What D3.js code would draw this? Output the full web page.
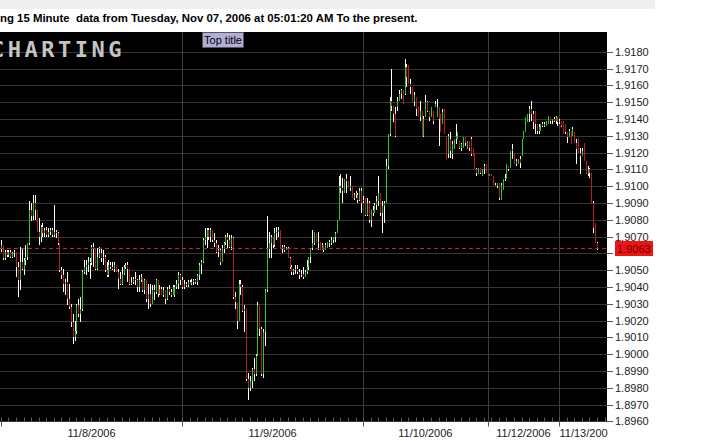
<!DOCTYPE html>
<html><head><meta charset="utf-8">
<script src="https://cdn.jsdelivr.net/npm/d3@7"></script>
<style>html,body{margin:0;padding:0;background:#fff;overflow:hidden}</style>
</head><body><svg id="c" width="722" height="441"></svg>
<script>
// ---- data: 15-minute bars, 11/8/2006 .. 11/13/2006 ----
const opens = [
1.9063,1.9065,1.9057,1.9061,1.9059,1.9061,1.9058,1.9060,1.9061,1.9052,
1.9044,1.9055,1.9051,1.9056,1.9058,1.9066,1.9086,1.9082,1.9090,1.9086,
1.9073,1.9070,1.9076,1.9072,1.9074,1.9071,1.9073,1.9074,1.9071,1.9073,
1.9072,1.9066,1.9050,1.9047,1.9042,1.9043,1.9033,1.9028,1.9019,1.9010,
1.9014,1.9029,1.9024,1.9027,1.9049,1.9052,1.9053,1.9055,1.9054,1.9064,
1.9063,1.9051,1.9058,1.9060,1.9057,1.9058,1.9050,1.9047,1.9053,1.9052,
1.9051,1.9053,1.9049,1.9045,1.9042,1.9048,1.9052,1.9053,1.9051,1.9042,
1.9043,1.9045,1.9044,1.9040,1.9044,1.9046,1.9038,1.9044,1.9033,1.9036,
1.9030,1.9038,1.9037,1.9044,1.9036,1.9039,1.9035,1.9038,1.9033,1.9039,
1.9037,1.9035,1.9035,1.9040,1.9042,1.9047,
1.9044,1.9040,1.9042,1.9041,1.9043,1.9042,1.9043,1.9044,1.9043,1.9047,
1.9053,1.9055,1.9068,1.9070,1.9074,1.9070,1.9074,1.9068,1.9066,1.9061,
1.9062,1.9055,1.9063,1.9066,1.9070,1.9068,1.9064,1.9069,1.9034,1.9031,
1.9020,1.9042,1.9040,1.9026,1.9027,1.8985,1.8980,1.8984,1.8991,1.8988,
1.8999,1.9029,1.9015,1.8988,1.9013,1.9038,1.9063,1.9066,1.9070,1.9065,
1.9072,1.9073,1.9074,1.9063,1.9064,1.9062,1.9063,1.9057,1.9052,1.9049,
1.9050,1.9051,1.9049,1.9047,1.9048,1.9046,1.9049,1.9052,1.9058,1.9063,
1.9066,1.9072,1.9066,1.9067,1.9062,1.9065,1.9062,1.9063,1.9067,1.9066,
1.9068,1.9070,1.9072,1.9080,1.9100,1.9099,1.9096,1.9104,1.9103,1.9099,
1.9100,1.9093,1.9095,1.9095,1.9092,1.9097,
1.9091,1.9093,1.9083,1.9090,1.9080,1.9086,1.9084,1.9089,1.9091,1.9096,
1.9084,1.9088,1.9090,1.9112,1.9131,1.9151,1.9148,1.9143,1.9147,1.9151,
1.9155,1.9157,1.9155,1.9171,1.9172,1.9161,1.9159,1.9150,1.9153,1.9148,
1.9141,1.9145,1.9130,1.9141,1.9150,1.9145,1.9141,1.9145,1.9147,1.9141,
1.9147,1.9143,1.9137,1.9146,1.9129,1.9119,1.9128,1.9119,1.9122,1.9128,
1.9128,1.9127,1.9123,1.9123,1.9129,1.9122,1.9127,1.9128,1.9123,1.9119,
1.9110,1.9107,1.9111,1.9106,1.9110,1.9113,
1.9107,1.9106,1.9107,1.9106,1.9101,1.9100,1.9102,1.9092,1.9098,1.9104,
1.9104,1.9112,1.9111,1.9121,1.9120,1.9113,1.9113,1.9116,1.9118,1.9128,
1.9132,1.9138,1.9143,1.9146,1.9143,1.9145,1.9137,1.9133,1.9133,1.9137,
1.9136,1.9136,1.9137,1.9141,1.9139,1.9140,1.9139,1.9141,
1.9138,1.9139,1.9139,1.9137,1.9132,1.9129,1.9133,1.9130,1.9132,1.9126,
1.9128,1.9120,1.9118,1.9126,1.9115,1.9107,1.9110,1.9108,1.9090,1.9078,
1.9066];
const highs = [
1.9068,1.9065,1.9062,1.9062,1.9062,1.9062,1.9061,1.9062,1.9061,1.9055,
1.9064,1.9063,1.9057,1.9065,1.9066,1.9091,1.9090,1.9095,1.9095,1.9086,
1.9081,1.9077,1.9078,1.9075,1.9076,1.9075,1.9075,1.9075,1.9089,1.9074,
1.9073,1.9066,1.9052,1.9051,1.9045,1.9049,1.9042,1.9030,1.9024,1.9020,
1.9030,1.9033,1.9034,1.9050,1.9056,1.9056,1.9058,1.9057,1.9065,1.9066,
1.9063,1.9063,1.9064,1.9063,1.9062,1.9059,1.9055,1.9056,1.9055,1.9055,
1.9055,1.9053,1.9051,1.9049,1.9052,1.9053,1.9054,1.9055,1.9051,1.9046,
1.9046,1.9049,1.9045,1.9047,1.9048,1.9046,1.9045,1.9044,1.9042,1.9042,
1.9041,1.9041,1.9045,1.9044,1.9041,1.9040,1.9040,1.9038,1.9040,1.9041,
1.9039,1.9041,1.9041,1.9044,1.9049,1.9048,
1.9046,1.9044,1.9043,1.9044,1.9044,1.9045,1.9045,1.9045,1.9048,1.9054,
1.9056,1.9069,1.9075,1.9075,1.9075,1.9075,1.9074,1.9072,1.9068,1.9065,
1.9063,1.9065,1.9067,1.9071,1.9072,1.9071,1.9071,1.9070,1.9037,1.9031,
1.9044,1.9044,1.9041,1.9029,1.9027,1.8989,1.8987,1.8992,1.8998,1.9000,
1.9031,1.9029,1.9016,1.9015,1.9039,1.9082,1.9073,1.9071,1.9070,1.9075,
1.9076,1.9076,1.9074,1.9065,1.9065,1.9064,1.9064,1.9058,1.9053,1.9051,
1.9053,1.9053,1.9051,1.9050,1.9052,1.9050,1.9056,1.9058,1.9063,1.9074,
1.9073,1.9072,1.9073,1.9067,1.9066,1.9065,1.9066,1.9067,1.9068,1.9070,
1.9070,1.9073,1.9080,1.9106,1.9107,1.9105,1.9104,1.9107,1.9103,1.9106,
1.9100,1.9096,1.9097,1.9096,1.9099,1.9099,
1.9094,1.9093,1.9093,1.9091,1.9086,1.9088,1.9090,1.9094,1.9106,1.9096,
1.9091,1.9091,1.9116,1.9131,1.9153,1.9170,1.9148,1.9147,1.9153,1.9157,
1.9158,1.9157,1.9176,1.9173,1.9172,1.9164,1.9159,1.9156,1.9153,1.9148,
1.9151,1.9145,1.9142,1.9154,1.9151,1.9145,1.9147,1.9145,1.9151,1.9152,
1.9147,1.9143,1.9146,1.9146,1.9129,1.9131,1.9132,1.9127,1.9128,1.9137,
1.9132,1.9127,1.9126,1.9129,1.9129,1.9127,1.9127,1.9129,1.9123,1.9119,
1.9111,1.9111,1.9111,1.9110,1.9113,1.9113,
1.9107,1.9107,1.9107,1.9106,1.9102,1.9102,1.9102,1.9102,1.9104,1.9107,
1.9113,1.9112,1.9121,1.9125,1.9120,1.9116,1.9116,1.9118,1.9128,1.9133,
1.9141,1.9143,1.9148,1.9151,1.9145,1.9145,1.9137,1.9137,1.9137,1.9138,
1.9138,1.9139,1.9142,1.9141,1.9140,1.9141,1.9142,1.9141,
1.9140,1.9139,1.9139,1.9137,1.9132,1.9134,1.9133,1.9135,1.9132,1.9128,
1.9128,1.9123,1.9123,1.9126,1.9115,1.9112,1.9111,1.9108,1.9091,1.9078,
1.9067];
const lows = [
1.9061,1.9056,1.9056,1.9058,1.9058,1.9057,1.9057,1.9058,1.9046,1.9034,
1.9038,1.9050,1.9047,1.9053,1.9056,1.9065,1.9079,1.9080,1.9080,1.9073,
1.9065,1.9067,1.9070,1.9070,1.9070,1.9070,1.9071,1.9070,1.9070,1.9069,
1.9065,1.9049,1.9045,1.9037,1.9035,1.9029,1.9027,1.9016,1.9006,1.9008,
1.9012,1.9022,1.9019,1.9026,1.9048,1.9047,1.9049,1.9045,1.9053,1.9052,
1.9050,1.9050,1.9057,1.9055,1.9053,1.9049,1.9046,1.9046,1.9051,1.9050,
1.9049,1.9049,1.9039,1.9041,1.9041,1.9047,1.9051,1.9043,1.9041,1.9041,
1.9042,1.9041,1.9037,1.9037,1.9043,1.9037,1.9036,1.9031,1.9027,1.9028,
1.9030,1.9032,1.9036,1.9034,1.9035,1.9035,1.9034,1.9030,1.9032,1.9035,
1.9034,1.9035,1.9034,1.9039,1.9039,1.9041,
1.9039,1.9039,1.9040,1.9040,1.9042,1.9041,1.9041,1.9042,1.9041,1.9044,
1.9048,1.9054,1.9065,1.9063,1.9068,1.9067,1.9067,1.9064,1.9060,1.9058,
1.9053,1.9055,1.9060,1.9065,1.9063,1.9063,1.9062,1.9033,1.9027,1.9015,
1.9020,1.9035,1.9025,1.9013,1.8984,1.8973,1.8978,1.8980,1.8984,1.8987,
1.8999,1.9011,1.8987,1.8986,1.9005,1.9037,1.9057,1.9057,1.9063,1.9064,
1.9068,1.9070,1.9063,1.9060,1.9061,1.9062,1.9057,1.9051,1.9047,1.9047,
1.9048,1.9048,1.9045,1.9046,1.9045,1.9046,1.9048,1.9050,1.9054,1.9062,
1.9065,1.9066,1.9062,1.9062,1.9062,1.9061,1.9062,1.9063,1.9064,1.9065,
1.9066,1.9067,1.9072,1.9080,1.9096,1.9090,1.9096,1.9096,1.9099,1.9097,
1.9093,1.9092,1.9093,1.9090,1.9091,1.9084,
1.9090,1.9082,1.9082,1.9078,1.9076,1.9082,1.9084,1.9086,1.9088,1.9082,
1.9072,1.9078,1.9090,1.9110,1.9130,1.9145,1.9138,1.9129,1.9145,1.9151,
1.9152,1.9149,1.9154,1.9159,1.9161,1.9155,1.9150,1.9148,1.9142,1.9141,
1.9139,1.9130,1.9129,1.9141,1.9144,1.9139,1.9141,1.9137,1.9147,1.9141,
1.9124,1.9132,1.9137,1.9131,1.9116,1.9117,1.9117,1.9116,1.9122,1.9125,
1.9128,1.9122,1.9121,1.9123,1.9124,1.9122,1.9121,1.9118,1.9118,1.9110,
1.9106,1.9107,1.9107,1.9106,1.9107,1.9108,
1.9106,1.9106,1.9106,1.9101,1.9100,1.9099,1.9092,1.9092,1.9098,1.9103,
1.9104,1.9109,1.9111,1.9116,1.9113,1.9112,1.9113,1.9111,1.9118,1.9128,
1.9132,1.9138,1.9138,1.9139,1.9134,1.9131,1.9131,1.9131,1.9133,1.9135,
1.9135,1.9136,1.9137,1.9137,1.9137,1.9138,1.9137,1.9136,
1.9137,1.9135,1.9131,1.9131,1.9126,1.9129,1.9125,1.9130,1.9126,1.9113,
1.9120,1.9107,1.9118,1.9115,1.9107,1.9106,1.9105,1.9090,1.9072,1.9066,
1.9062];
const closes = [
1.9065,1.9057,1.9061,1.9059,1.9061,1.9058,1.9060,1.9061,1.9052,1.9044,
1.9055,1.9051,1.9056,1.9058,1.9066,1.9086,1.9082,1.9090,1.9086,1.9073,
1.9070,1.9076,1.9072,1.9074,1.9071,1.9073,1.9074,1.9071,1.9073,1.9072,
1.9066,1.9050,1.9047,1.9042,1.9043,1.9033,1.9028,1.9019,1.9010,1.9014,
1.9029,1.9024,1.9027,1.9049,1.9052,1.9053,1.9055,1.9054,1.9064,1.9063,
1.9051,1.9058,1.9060,1.9057,1.9058,1.9050,1.9047,1.9053,1.9052,1.9051,
1.9053,1.9049,1.9045,1.9042,1.9048,1.9052,1.9053,1.9051,1.9042,1.9043,
1.9045,1.9044,1.9040,1.9044,1.9046,1.9038,1.9044,1.9033,1.9036,1.9030,
1.9038,1.9037,1.9044,1.9036,1.9039,1.9035,1.9038,1.9033,1.9039,1.9037,
1.9035,1.9040,1.9040,1.9042,1.9047,1.9044,
1.9040,1.9042,1.9041,1.9043,1.9042,1.9043,1.9044,1.9043,1.9047,1.9053,
1.9055,1.9068,1.9070,1.9074,1.9070,1.9074,1.9068,1.9066,1.9061,1.9062,
1.9055,1.9063,1.9066,1.9070,1.9068,1.9064,1.9069,1.9034,1.9031,1.9020,
1.9042,1.9040,1.9026,1.9027,1.8985,1.8980,1.8984,1.8991,1.8988,1.8999,
1.9029,1.9015,1.8988,1.9013,1.9038,1.9063,1.9066,1.9070,1.9065,1.9072,
1.9073,1.9074,1.9063,1.9064,1.9062,1.9063,1.9057,1.9052,1.9049,1.9050,
1.9051,1.9049,1.9047,1.9048,1.9046,1.9049,1.9052,1.9058,1.9063,1.9066,
1.9073,1.9066,1.9067,1.9062,1.9065,1.9062,1.9065,1.9067,1.9066,1.9068,
1.9070,1.9072,1.9080,1.9100,1.9099,1.9097,1.9104,1.9103,1.9099,1.9100,
1.9093,1.9095,1.9096,1.9092,1.9097,1.9090,
1.9092,1.9083,1.9090,1.9080,1.9086,1.9084,1.9089,1.9091,1.9096,1.9084,
1.9088,1.9090,1.9112,1.9131,1.9151,1.9148,1.9143,1.9130,1.9151,1.9155,
1.9157,1.9149,1.9171,1.9165,1.9161,1.9159,1.9150,1.9154,1.9146,1.9141,
1.9145,1.9130,1.9140,1.9150,1.9145,1.9141,1.9147,1.9139,1.9149,1.9147,
1.9140,1.9132,1.9144,1.9131,1.9116,1.9130,1.9121,1.9125,1.9128,1.9130,
1.9132,1.9123,1.9125,1.9129,1.9126,1.9127,1.9123,1.9119,1.9118,1.9110,
1.9108,1.9111,1.9108,1.9110,1.9112,1.9108,
1.9106,1.9107,1.9106,1.9101,1.9100,1.9102,1.9093,1.9101,1.9104,1.9105,
1.9113,1.9110,1.9121,1.9122,1.9113,1.9115,1.9116,1.9114,1.9128,1.9133,
1.9141,1.9143,1.9146,1.9143,1.9138,1.9137,1.9133,1.9135,1.9137,1.9136,
1.9137,1.9139,1.9142,1.9139,1.9140,1.9139,1.9141,1.9138,
1.9139,1.9136,1.9131,1.9132,1.9129,1.9133,1.9125,1.9134,1.9126,1.9122,
1.9120,1.9118,1.9121,1.9115,1.9107,1.9110,1.9108,1.9090,1.9075,1.9066,
1.9063];
const dayLabels = ["11/8/2006","11/9/2006","11/10/2006","11/12/2006","11/13/2006"];
const dayStarts = [0, 96, 192, 258, 296];
const priceTicks = [1.8960,1.8970,1.8980,1.8990,1.9000,1.9010,1.9020,1.9030,1.9040,1.9050,
  1.9060,1.9070,1.9080,1.9090,1.9100,1.9110,1.9120,1.9130,1.9140,1.9150,1.9160,1.9170,1.9180];
const lastPrice = 1.9063;
const headerText = "ng 15 Minute  data from Tuesday, Nov 07, 2006 at 05:01:20 AM To the present.";
const logoText = "CHARTING";
const titleText = "Top title";

// ---- layout ----
const svg = d3.select("#c");
const PL = 0, PR = 607, PT = 32, PB = 421.5;
const n = closes.length;
const x = d3.scaleLinear().domain([-0.5, 321.3]).range([PL, PR]);
const y = d3.scaleLinear().domain([1.896, 1.918]).range([421.4, 51.8]);
const FONT = "'Liberation Sans', Arial, sans-serif";

svg.append("rect").attr("x",0).attr("y",0).attr("width",655).attr("height",9).attr("fill","#efefef");
svg.append("text").attr("x",0).attr("y",22).attr("font-family",FONT).attr("font-weight","bold")
  .attr("font-size",11.4).attr("fill","#000").style("white-space","pre").text(headerText);

svg.append("rect").attr("x",PL).attr("y",PT).attr("width",PR-PL).attr("height",PB-PT).attr("fill","#000");

const grid = svg.append("g");
grid.selectAll("line.h").data(priceTicks).join("line")
  .attr("x1",PL).attr("x2",PR)
  .attr("y1",d=>Math.round(y(d))+0.5).attr("y2",d=>Math.round(y(d))+0.5)
  .attr("stroke","#363636").attr("stroke-width",1);
grid.selectAll("line.v").data(dayStarts.slice(1)).join("line")
  .attr("x1",d=>Math.round(x(d))+0.5).attr("x2",d=>Math.round(x(d))+0.5)
  .attr("y1",PT).attr("y2",PB).attr("stroke","#404040");
// hourly minor ticks along the bottom
grid.selectAll("line.m").data(d3.range(0, n+4, 4)).join("line")
  .attr("x1",d=>Math.round(x(d))+0.5).attr("x2",d=>Math.round(x(d))+0.5)
  .attr("y1",PB-4).attr("y2",PB).attr("stroke","#5a5a5a");

svg.append("text").attr("x",-9).attr("y",57).attr("font-family","'DejaVu Sans Mono', monospace")
  .attr("font-weight","bold").attr("font-size",22).attr("letter-spacing",3.5)
  .attr("fill","#c4c4c4").text(logoText);

// bars
const idx = d3.range(n);
const bars = svg.append("g").attr("shape-rendering","crispEdges");
bars.selectAll("rect.w").data(idx).join("rect")
  .attr("x",i=>Math.round(x(i))).attr("width",1)
  .attr("y",i=>Math.round(y(highs[i])))
  .attr("height",i=>Math.max(1,Math.round(y(lows[i]))-Math.round(y(highs[i]))))
  .attr("fill","#ffffff");
bars.selectAll("rect.b").data(idx).join("rect")
  .attr("x",i=>Math.round(x(i))).attr("width",1)
  .attr("y",i=>Math.round(y(Math.max(opens[i],closes[i]))))
  .attr("height",i=>Math.max(1,Math.round(y(Math.min(opens[i],closes[i])))-Math.round(y(Math.max(opens[i],closes[i])))))
  .attr("fill",i=>closes[i]>opens[i]?"#2fc42f":(closes[i]<opens[i]?"#b81c1c":"#b8b040"));

// last price line
svg.append("line").attr("x1",PL).attr("x2",PR)
  .attr("y1",Math.round(y(lastPrice))+0.5).attr("y2",Math.round(y(lastPrice))+0.5)
  .attr("stroke","#c8242a").attr("stroke-dasharray","4,3");

// y axis (the label hidden under the price tag is not drawn)
const ty = y(lastPrice);
const ya = svg.append("g");
ya.selectAll("line").data(priceTicks).join("line")
  .attr("x1",PR).attr("x2",PR+6)
  .attr("y1",d=>Math.round(y(d))+0.5).attr("y2",d=>Math.round(y(d))+0.5)
  .attr("stroke","#555");
ya.selectAll("text").data(priceTicks.filter(d=>Math.abs(y(d)-ty)>10)).join("text")
  .attr("x",PR+8).attr("y",d=>y(d)+4)
  .attr("font-family",FONT).attr("font-size",11).attr("fill","#222")
  .text(d=>d3.format(".4f")(d));

// price tag
svg.append("rect").attr("x",615).attr("y",Math.round(ty)-7).attr("width",38).attr("height",15).attr("fill","#ee1414");
svg.append("text").attr("x",617).attr("y",ty+4.5).attr("font-family",FONT).attr("font-size",11)
  .attr("fill","#6a0000").text(d3.format(".4f")(lastPrice));

// x axis
svg.append("clipPath").attr("id","xc").append("rect").attr("x",0).attr("y",PB).attr("width",PR+1).attr("height",30);
const xa = svg.append("g").attr("clip-path","url(#xc)");
xa.selectAll("line").data(dayStarts).join("line")
  .attr("x1",d=>Math.round(x(d))+0.5).attr("x2",d=>Math.round(x(d))+0.5)
  .attr("y1",PB).attr("y2",PB+5).attr("stroke","#555");
const bounds = dayStarts.map(d=>x(d)).concat([PR+7]);
xa.selectAll("text").data(dayLabels).join("text")
  .attr("x",(d,i)=>(bounds[i]+bounds[i+1])/2).attr("y",437)
  .attr("text-anchor","middle").attr("font-family",FONT).attr("font-size",11).attr("fill","#222")
  .text(d=>d);

// top title box
const tt = svg.append("g");
tt.append("rect").attr("x",202.5).attr("y",32.5).attr("width",41).attr("height",15)
  .attr("fill","#b2aedb").attr("stroke","#555");
tt.append("text").attr("x",223).attr("y",44).attr("text-anchor","middle")
  .attr("font-family",FONT).attr("font-size",11).attr("fill","#000").text(titleText);
</script></body></html>
